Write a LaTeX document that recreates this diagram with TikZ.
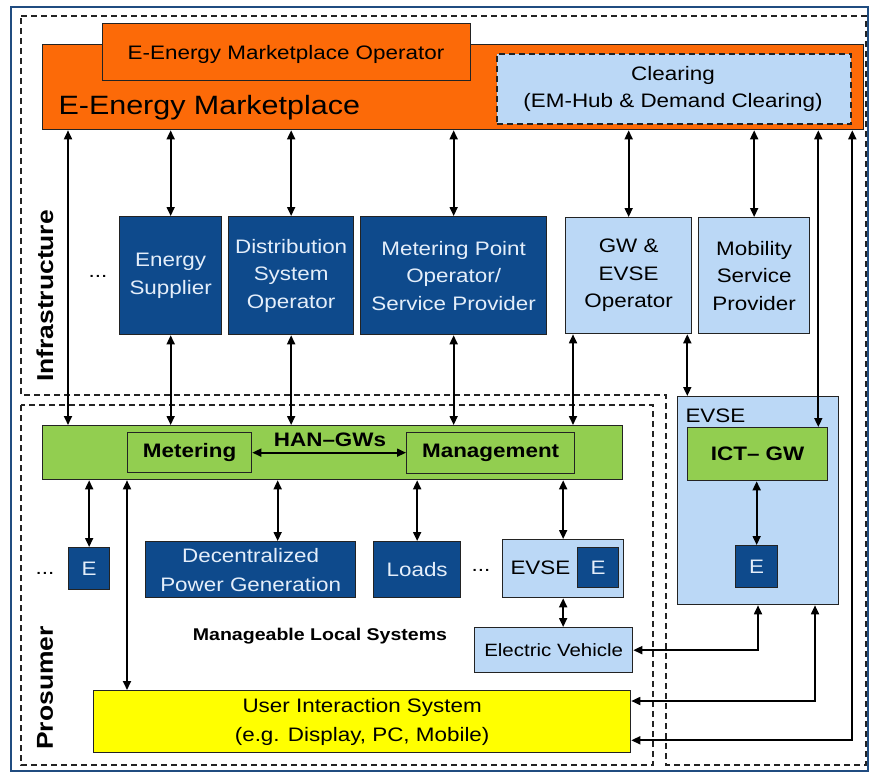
\documentclass[tikz,border=0pt]{standalone}
\usepackage{fontspec}
\setmainfont{Liberation Sans}[FakeStretch=1.15]
\usetikzlibrary{arrows.meta,calc}
\definecolor{mkorange}{RGB}{252,106,8}
\definecolor{dkblue}{RGB}{14,74,140}
\definecolor{ltblue}{RGB}{187,216,246}
\definecolor{hgreen}{RGB}{146,206,80}
\definecolor{uyellow}{RGB}{255,255,0}
\definecolor{framecol}{RGB}{32,76,128}
\definecolor{boxline}{RGB}{35,35,35}
\definecolor{paletext}{RGB}{228,238,250}
\newcommand\basefs{\fontsize{19.5}{27.5}\selectfont}
\begin{document}
\begin{tikzpicture}[x=1pt,y=-1pt,
  box/.style={draw=boxline,line width=1.3pt,inner sep=0pt,anchor=north west,align=center,font=\basefs},
  dark/.style={box,fill=dkblue,text=paletext},
  light/.style={box,fill=ltblue},
  green/.style={box,fill=hgreen,font=\basefs\bfseries},
  dsh/.style={draw=boxline,line width=1.6pt,dash pattern=on 6pt off 4pt},
  dbl/.style={line width=1.7pt,{Triangle[length=9pt,width=8pt]}-{Triangle[length=9pt,width=8pt]}},
  lbl/.style={font=\basefs}]
\useasboundingbox (0,0) rectangle (871,776);
% outer frame
\draw[framecol,line width=2.6pt] (11,7) rectangle (868,771);
% dashed areas
\draw[dsh] (21,16) -- (866,16) -- (866,765) -- (666,765) -- (666,395) -- (21,395) -- cycle;
\draw[dsh] (21,405) rectangle (653,765);
\node[rotate=90,font=\fontsize{23}{23}\selectfont\bfseries] (infra) at (45,296) {Infrastructure};
\node[rotate=90,font=\fontsize{23}{23}\selectfont\bfseries] (pros) at (45,688) {Prosumer};
% marketplace
\node[box,fill=mkorange,minimum width=821pt,minimum height=85pt] (mkt) at (42,44) {};
\node[box,fill=mkorange,minimum width=368pt,minimum height=57pt] (op) at (102,23) {};
\node[font=\basefs] (optxt) at (286,54) {E-Energy Marketplace Operator};
\node[anchor=base west,font=\fontsize{26.5}{30}\selectfont] (mkttxt) at (55,114) {E-Energy Marketplace};
\node[light,dsh,fill=ltblue,minimum width=354pt,minimum height=70pt] (clr) at (496,53) {};
\node[lbl,align=center] (clrtxt) at (673,89) {Clearing\\(EM-Hub \& Demand Clearing)};
% actors
\node[lbl] (dots1) at (98,276) {...};
\node[dark,minimum width=102pt,minimum height=118pt] (es) at (119,216) {Energy\\Supplier};
\node[dark,minimum width=125pt,minimum height=118pt] (dso) at (228,216) {Distribution\\System\\Operator};
\node[dark,minimum width=186pt,minimum height=118pt] (mpo) at (360,216) {Metering Point\\Operator/\\Service Provider};
\node[light,minimum width=126pt,minimum height=116pt] (gwe) at (565,217) {GW \&\\EVSE\\Operator};
\node[light,minimum width=111pt,minimum height=116pt] (msp) at (698,217) {Mobility\\Service\\Provider};
% HAN gateway
\node[box,fill=hgreen,minimum width=580pt,minimum height=54pt] (han) at (42,425) {};
\node[green,minimum width=124pt,minimum height=40pt] (met) at (127,432) {Metering};
\node[green,minimum width=168pt,minimum height=41pt] (man) at (406,432) {Management};
\node[font=\basefs\bfseries] (hanlbl) at (330,440) {HAN--GWs};
% local systems
\node[lbl] (dots2) at (45,573) {...};
\node[dark,minimum width=41pt,minimum height=42pt] (eL) at (68,547) {E};
\node[dark,minimum width=210pt,minimum height=56pt,font=\fontsize{19.5}{29}\selectfont] (dpg) at (145,541) {Decentralized\\Power Generation};
\node[dark,minimum width=87pt,minimum height=56pt] (loads) at (373,541) {Loads};
\node[lbl] (dots3) at (481,570) {...};
\node[light,minimum width=121pt,minimum height=58pt] (evs) at (502,539) {};
\node[lbl,anchor=west] (evstxt) at (507,568) {EVSE};
\node[dark,minimum width=41pt,minimum height=40pt] (eM) at (577,547) {E};
\node[light,minimum width=158pt,minimum height=45pt,font=\fontsize{17.8}{20}\selectfont] (ev) at (474,627) {Electric Vehicle};
\node[font=\fontsize{17}{20}\selectfont\bfseries] (mls) at (320,636) {Manageable Local Systems};
\node[box,fill=uyellow,minimum width=537pt,minimum height=62pt,font=\fontsize{19.5}{29}\selectfont] (uis) at (93,690) {User Interaction System\\(e.g. Display, PC, Mobile)};
% EVSE right
\node[light,minimum width=161pt,minimum height=208pt] (evb) at (677,396) {};
\node[lbl,anchor=base west] (evbtxt) at (682,422) {EVSE};
\node[green,minimum width=140pt,minimum height=53pt] (ict) at (687,427) {ICT-- GW};
\node[dark,minimum width=42pt,minimum height=42pt] (eR) at (735,545) {E};
% helper coordinates
\coordinate (h1) at ($(han.north west)+(26,0)$);
\coordinate (i1) at ($(ict.north east)+(-10,0)$);
\coordinate (m8) at ($(mkt.south east)+(-12,0)$);
\coordinate (u8) at ($(uis.south east)+(0,-13)$);
\coordinate (g1) at ($(gwe.south west)+(8,0)$);
\coordinate (g2) at ($(gwe.south east)+(-5,0)$);
\coordinate (h2) at (met.south west |- han.south);
\coordinate (d1) at ($(dpg.north)+(27,0)$);
\coordinate (v1) at ($(evb.south west)+(81,0)$);
\coordinate (v2) at ($(evb.south west)+(138,0)$);
\coordinate (u1) at ($(uis.north east)+(0,11)$);
% arrows marketplace
\draw[dbl] (h1 |- mkt.south) -- (h1);
\draw[dbl] (es.north |- mkt.south) -- (es.north);
\draw[dbl] (dso.north |- mkt.south) -- (dso.north);
\draw[dbl] (mpo.north |- mkt.south) -- (mpo.north);
\draw[dbl] (gwe.north |- mkt.south) -- (gwe.north);
\draw[dbl] (msp.north |- mkt.south) -- (msp.north);
\draw[dbl] (i1 |- mkt.south) -- (i1);
\draw[dbl] (m8) |- (u8);
% actors to HAN
\draw[dbl] (es.south) -- (es.south |- han.north);
\draw[dbl] (dso.south) -- (dso.south |- han.north);
\draw[dbl] (mpo.south) -- (mpo.south |- han.north);
\draw[dbl] (g1) -- (g1 |- han.north);
\draw[dbl] (g2) -- (g2 |- evb.north);
\draw[dbl] (met.east) -- (met.east -| man.west);
% HAN to local
\draw[dbl] (eL.north |- han.south) -- (eL.north);
\draw[dbl] (h2) -- (h2 |- uis.north);
\draw[dbl] (d1 |- han.south) -- (d1);
\draw[dbl] (loads.north |- han.south) -- (loads.north);
\draw[dbl] (evs.north |- han.south) -- (evs.north);
\draw[dbl] (evs.south) -- (evs.south |- ev.north);
% EVSE right
\draw[dbl] (eR.north |- ict.south) -- (eR.north);
\draw[dbl] (ev.east) -| (v1);
\draw[dbl] (u1) -| (v2);
\end{tikzpicture}
\end{document}
